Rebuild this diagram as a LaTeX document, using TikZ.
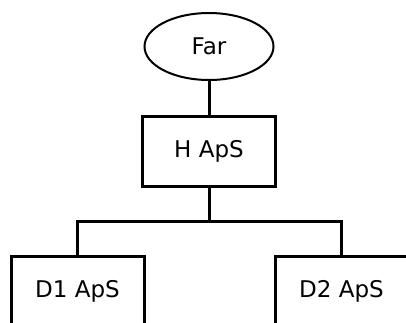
\documentclass[tikz,border=0pt]{standalone}
\usepackage{fontspec}
\setmainfont{DejaVu Sans}
\usetikzlibrary{shapes.geometric}
\tikzset{
  company/.style={draw,line width=3pt,minimum width=133pt,minimum height=70pt,inner sep=0pt},
  owner/.style={draw,ellipse,line width=2pt,minimum width=129pt,minimum height=67pt,inner sep=0pt},
  link/.style={line width=3pt}
}

\begin{document}
\begin{tikzpicture}[x=1pt,y=-1pt,font=\fontsize{23}{27}\selectfont]
        \useasboundingbox (0,0) rectangle (406,322);
        \clip (0,0) rectangle (406,322);
        % The owner
        \node[owner] (far) at (209,46.5) {Far};
        % The holding company
        \node[company] (h) at (209,151) {H ApS};
        % The daughters
        \node[company] (d1) at (77.5,291) {D1 ApS};
        \node[company] (d2) at (341.5,291) {D2 ApS};
        % Ownership lines
        \coordinate (fork) at (209,221.5);
        \draw[link] (far) -- (h);
        \draw[link] (h) -- (fork);
        \draw[link] (d1.north) |- (fork) -| (d2.north);
\end{tikzpicture}
\end{document}
